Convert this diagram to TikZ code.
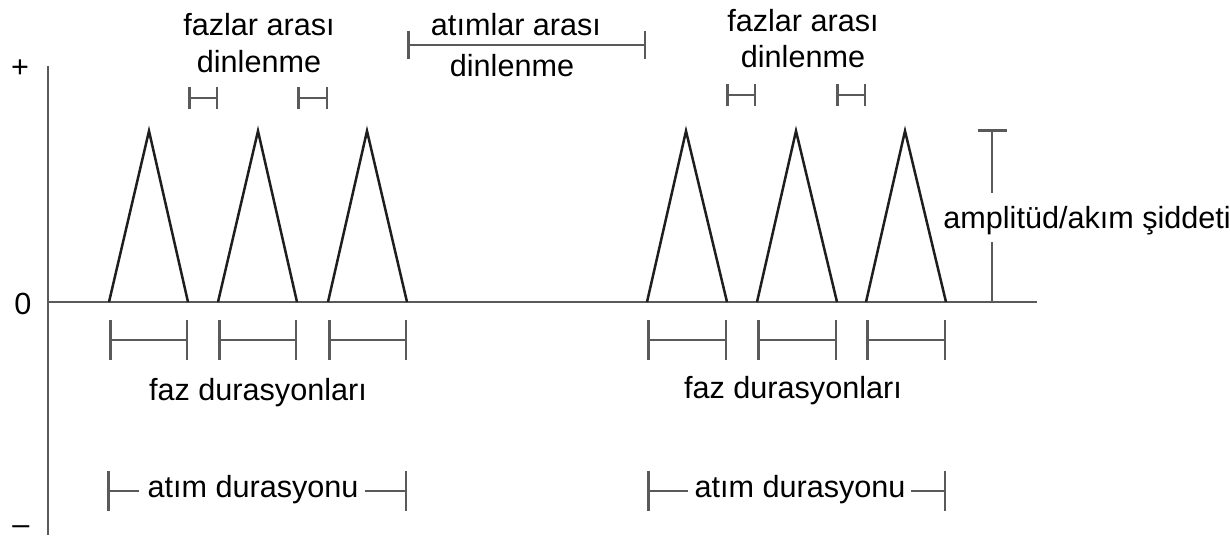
\documentclass[tikz,border=0pt]{standalone}
\usepackage{fontspec}
\setmainfont{Liberation Sans}
\usetikzlibrary{arrows.meta}
\definecolor{axisgray}{HTML}{5A5A5A}
\definecolor{pulsecol}{HTML}{1E1E1E}
\begin{document}
\begin{tikzpicture}[x=0.5pt,y=-0.5pt,
  lbl/.style={inner sep=0pt, font=\fontsize{15.3}{18}\selectfont, text=black, anchor=base},
  axisline/.style={draw=axisgray, line width=1.4pt},
  pulse/.style={draw=pulsecol, line width=1.25pt, line join=miter},
  dimline/.style={draw=axisgray, line width=1.25pt},
  barboth/.style={dimline, {Bar[width=#1]}-{Bar[width=#1]}},
  barleft/.style={dimline, {Bar[width=#1]}-},
  barright/.style={dimline, -{Bar[width=#1]}}
]
\useasboundingbox (0,0) rectangle (1230,538);

% axes
\coordinate (ytop) at (48,66);
\coordinate (ybot) at (48,535);
\coordinate (origin) at (48,302);
\coordinate (xend) at (1037,302);
\draw[axisline] (ytop) -- (ybot);
\draw[axisline] (origin) -- (xend);

\node[lbl, anchor=center] (plus) at (20,69) {+};
\node[lbl, anchor=center] (zero) at (23,304) {0};
\node[lbl, anchor=south] (minus) at (21,535) {–};

% pulses and phase duration brackets
\foreach \a/\b/\c [count=\i] in {109/149/188, 218/258/297, 328/367/407,
                                 647/686/727, 757/796/837, 866/905/946} {
  \coordinate (t\i a) at (\a,302);
  \coordinate (t\i p) at (\b,131);
  \coordinate (t\i c) at (\c,302);
  \draw[pulse] (t\i a) -- (t\i p) -- (t\i c);
  \coordinate (fd\i a) at (\a,340);
  \coordinate (fd\i c) at (\c,340);
  \draw[barboth=20pt] (fd\i a) -- (fd\i c);
}

% interphase rest brackets
\foreach \a/\c/\y [count=\i] in {188/218/98, 297/328/98, 726/756/95, 836/866/95} {
  \coordinate (ir\i a) at (\a,\y);
  \coordinate (ir\i c) at (\c,\y);
  \draw[barboth=11pt] (ir\i a) -- (ir\i c);
}

% labels: interphase rest
\node[lbl] (fazL1) at (259,35) {fazlar arası};
\node[lbl] (fazL2) at (259,72) {dinlenme};
\node[lbl] (fazR1) at (803,31) {fazlar arası};
\node[lbl] (fazR2) at (803,67) {dinlenme};

% inter-pulse rest
\coordinate (ipa) at (407,45);
\coordinate (ipc) at (646,45);
\draw[barboth=14pt] (ipa) -- (ipc);
\node[lbl] (atL1) at (516,35) {atımlar arası};
\node[lbl] (atL2) at (512,76) {dinlenme};

% amplitude
\node[lbl, anchor=base west] (amp) at (943,228) {amplitüd/akım şiddeti};
\coordinate (amptop) at (992,129);
\coordinate (ampa) at (992,193);
\coordinate (ampb) at (992,242);
\coordinate (ampbase) at (992,302);
\draw[barleft=14.5pt] (amptop) -- (ampa);
\draw[dimline] (ampb) -- (ampbase);

% phase duration labels
\node[lbl] (fdL) at (258,400) {faz durasyonları};
\node[lbl] (fdR) at (793,398) {faz durasyonları};

% pulse duration
\node[lbl] (adL) at (253,497) {atım durasyonu};
\node[lbl] (adR) at (800,497) {atım durasyonu};
\coordinate (adLa) at (107,491);
\coordinate (adLa2) at (139,491);
\coordinate (adLc2) at (365,491);
\coordinate (adLc) at (407,491);
\coordinate (adRa) at (647,491);
\coordinate (adRa2) at (688,491);
\coordinate (adRc2) at (911,491);
\coordinate (adRc) at (946,491);
\draw[barleft=20pt] (adLa) -- (adLa2);
\draw[barright=20pt] (adLc2) -- (adLc);
\draw[barleft=20pt] (adRa) -- (adRa2);
\draw[barright=20pt] (adRc2) -- (adRc);
\end{tikzpicture}
\end{document}
